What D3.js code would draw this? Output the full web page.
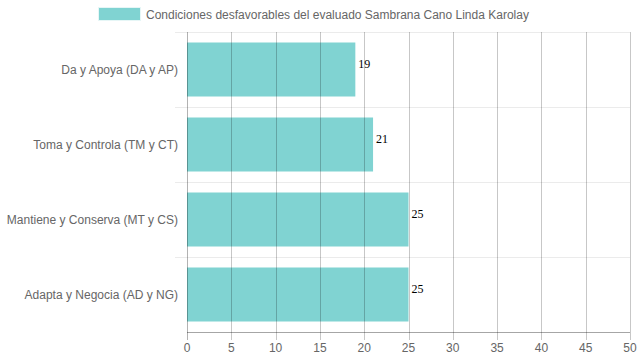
<!DOCTYPE html>
<html><head><meta charset="utf-8">
<script src="https://cdn.jsdelivr.net/npm/d3@7"></script>
<style>body{margin:0;background:#fff}svg{display:block}</style>
</head><body>
<svg id="c" width="639" height="360"></svg>
<script>
const categories = ["Da y Apoya (DA y AP)", "Toma y Controla (TM y CT)", "Mantiene y Conserva (MT y CS)", "Adapta y Negocia (AD y NG)"];
const values = [19, 21, 25, 25];
const xTicks = [0, 5, 10, 15, 20, 25, 30, 35, 40, 45, 50];
const seriesName = "Condiciones desfavorables del evaluado Sambrana Cano Linda Karolay";

(function () {
const svg = d3.select("#c");
const font = "'Liberation Sans', Arial, sans-serif";
const pL = 187, pR = 630, pT = 32, pB = 332;
const x = d3.scaleLinear().domain([0, 50]).range([pL, pR]);
const y = d3.scaleBand().domain(categories).range([pT, pB]).paddingInner(0).paddingOuter(0);
const barH = y.bandwidth() * 0.72;

// horizontal gridlines
const hLines = [pT].concat(categories.slice(1).map(c => y(c)));
svg.append("g").selectAll("line").data(hLines).join("line")
  .attr("x1", pL - 12).attr("x2", pR).attr("y1", d => d + 0.5).attr("y2", d => d + 0.5)
  .attr("stroke", "#ebebeb").attr("stroke-width", 1);

// bars
svg.append("g").selectAll("rect").data(values).join("rect")
  .attr("x", x(0)).attr("y", (d, i) => y(categories[i]) + (y.bandwidth() - barH) / 2)
  .attr("width", d => x(d) - x(0)).attr("height", barH)
  .attr("fill", "#80d3d2");

// vertical gridlines
svg.append("g").selectAll("line").data(xTicks).join("line")
  .attr("x1", d => Math.round(x(d)) + 0.5).attr("x2", d => Math.round(x(d)) + 0.5)
  .attr("y1", pT).attr("y2", pB + 8)
  .attr("stroke", d => d === 0 ? "rgba(0,0,0,0.3)" : "rgba(0,0,0,0.22)").attr("stroke-width", 1);

// x axis line
svg.append("line").attr("x1", pL).attr("x2", pR).attr("y1", pB + 0.5).attr("y2", pB + 0.5)
  .attr("stroke", "rgba(0,0,0,0.35)");

// x tick labels
svg.append("g").selectAll("text").data(xTicks).join("text")
  .attr("x", d => x(d)).attr("y", pB + 20)
  .attr("text-anchor", "middle").attr("font-family", font).attr("font-size", 12).attr("fill", "#666")
  .text(d => d);

// y labels
svg.append("g").selectAll("text").data(categories).join("text")
  .attr("x", 178).attr("y", d => y(d) + y.bandwidth() / 2 + 4)
  .attr("text-anchor", "end").attr("font-family", font).attr("font-size", 12).attr("fill", "#666")
  .text(d => d);

// value labels
svg.append("g").selectAll("text").data(values).join("text")
  .attr("x", d => x(d) + 3).attr("y", (d, i) => y(categories[i]) + y.bandwidth() / 2 - 2)
  .attr("font-family", "'Liberation Serif', 'Times New Roman', serif").attr("font-size", 12).attr("fill", "#000")
  .text(d => d);

// legend
svg.append("rect").attr("x", 98.5).attr("y", 7.5).attr("width", 42).attr("height", 13)
  .attr("fill", "#80d3d2").attr("stroke", "#e6f6f6").attr("stroke-width", 1);
svg.append("text").attr("x", 146).attr("y", 18.5)
  .attr("font-family", font).attr("font-size", 12).attr("fill", "#666").text(seriesName);
})();
</script>
</body></html>
